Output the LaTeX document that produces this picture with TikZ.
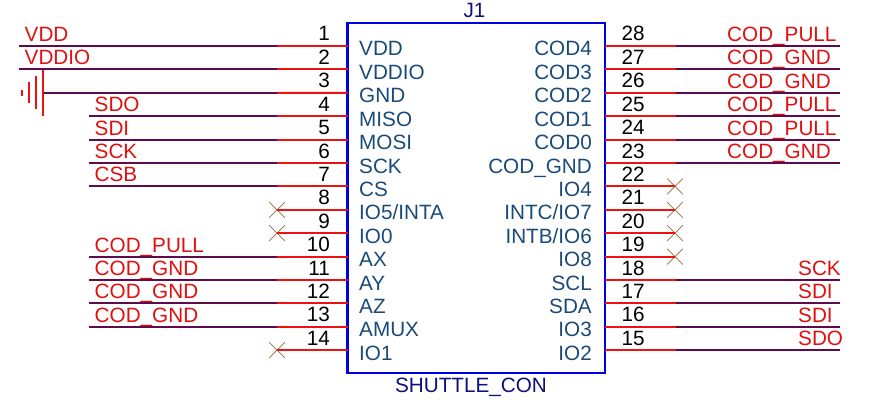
\documentclass[tikz,border=0pt]{standalone}
\usepackage{fontspec}
\setmainfont{Liberation Sans}
\usetikzlibrary{shapes.misc}

\definecolor{boxblue}{HTML}{0000E0}
\definecolor{titleblue}{HTML}{10107A}
\definecolor{pinblue}{HTML}{1A4A7A}
\definecolor{stubred}{HTML}{EE1111}
\definecolor{netred}{HTML}{E01010}
\definecolor{netdark}{HTML}{5F0A4C}
\definecolor{markbrown}{HTML}{9A6A3A}

\begin{document}
\begin{tikzpicture}[
    x=1pt, y=-1pt,
    every node/.style={font=\fontsize{20.7}{23}\selectfont, inner sep=0pt},
    part/.style={draw=boxblue, line width=2.2pt, minimum width=257.5pt, minimum height=350pt},
    title/.style={text=titleblue, anchor=base},
    pinname/.style={text=pinblue},
    pinnum/.style={text=black},
    netname/.style={text=netred, anchor=base west},
    stubwire/.style={draw=stubred, line width=2pt},
    netwire/.style={draw=netdark, line width=2pt},
    nomark/.style={draw=markbrown, line width=0.7pt, cross out, minimum size=15pt}
]
\useasboundingbox (0,0) rectangle (888,401);

% Connector
\node[part] (J1) at (476.25,198) {};
\node[title] (J1name) at (474.5,18) {J1};
\node[title] (J1type) at (471,392) {SHUTTLE\_CON};

% Left pins
\foreach \n/\pin [evaluate=\n as \y using 46+23.4*(\n-1)] in {1/VDD, 2/VDDIO, 3/GND, 4/MISO, 5/MOSI, 6/SCK, 7/CS, 8/IO5\slash INTA, 9/IO0, 10/AX, 11/AY, 12/AZ, 13/AMUX, 14/IO1} {
    \coordinate (pin\n) at (347.5,\y);
    \node[pinnum, anchor=base east] (num\n) at (330,\y-5) {\n};
    \node[pinname, anchor=base west] (name\n) at (359,\y+10) {\pin};
}

% Right pins
\foreach \n/\pin [evaluate=\n as \y using 46+23.4*(28-\n)] in {28/COD4, 27/COD3, 26/COD2, 25/COD1, 24/COD0, 23/COD\_GND, 22/IO4, 21/INTC\slash IO7, 20/INTB\slash IO6, 19/IO8, 18/SCL, 17/SDA, 16/IO3, 15/IO2} {
    \coordinate (pin\n) at (605,\y);
    \node[pinnum, anchor=base west] (num\n) at (621.5,\y-5) {\n};
    \node[pinname, anchor=base east] (name\n) at (592,\y+10) {\pin};
}

% Nets on the left
\foreach \n/\net/\wx [evaluate=\n as \y using 46+23.4*(\n-1)] in {1/VDD/19, 2/VDDIO/19, 4/SDO/89, 5/SDI/89, 6/SCK/89, 7/CSB/89, 10/COD\_PULL/89, 11/COD\_GND/89, 12/COD\_GND/89, 13/COD\_GND/89} {
    \coordinate (stub\n) at (277,\y);
    \coordinate (end\n) at (\wx,\y);
    \node[netname] (net\n) at (\wx+5.5,\y-4.5) {\net};
    \draw[netwire] (stub\n) -- (end\n);
    \draw[stubwire] (pin\n) -- (stub\n);
}

% Nets on the right
\foreach \n/\net/\lx [evaluate=\n as \y using 46+23.4*(28-\n)] in {28/COD\_PULL/727, 27/COD\_GND/727, 26/COD\_GND/727, 25/COD\_PULL/727, 24/COD\_PULL/727, 23/COD\_GND/727, 18/SCK/798, 17/SDI/798, 16/SDI/798, 15/SDO/798} {
    \coordinate (stub\n) at (676,\y);
    \coordinate (end\n) at (840,\y);
    \node[netname] (net\n) at (\lx,\y-4.5) {\net};
    \draw[netwire] (stub\n) -- (end\n);
    \draw[stubwire] (pin\n) -- (stub\n);
}

% Not connected
\foreach \n/\x [evaluate=\n as \y using 46+23.4*(\n-1)] in {8/277, 9/277, 14/277} {
    \node[nomark] (nc\n) at (\x,\y) {};
    \draw[stubwire] (pin\n) -- (nc\n.center);
}
\foreach \n/\x [evaluate=\n as \y using 46+23.4*(28-\n)] in {22/675, 21/675, 20/675, 19/675} {
    \node[nomark] (nc\n) at (\x,\y) {};
    \draw[stubwire] (pin\n) -- (nc\n.center);
}

% Ground
\coordinate (stub3) at (277,92.8);
\coordinate (gnd) at (43,92.8);
\draw[netwire] (stub3) -- (gnd);
\draw[stubwire] (pin3) -- (stub3);
\draw[stubwire] (43,70) -- (43,116);
\draw[stubwire] (35.5,76) -- (35.5,109);
\draw[stubwire] (29,82) -- (29,103);
\draw[stubwire] (22,90) -- (22,96);

\end{tikzpicture}
\end{document}
